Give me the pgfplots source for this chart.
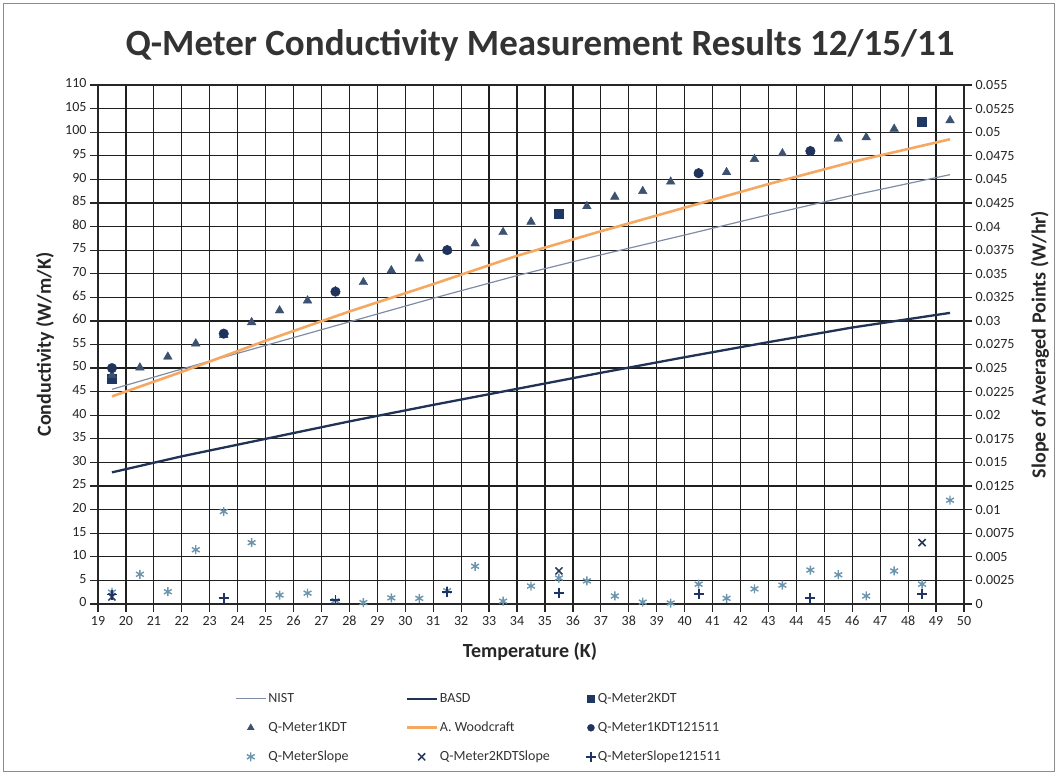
\documentclass[border=0pt]{standalone}
\usepackage{fontspec}
\setmainfont{Carlito}
\usepackage{pgfplots}
\usepackage{pgfplotstable}
\pgfplotsset{compat=1.18}
\definecolor{nistc}{rgb}{0.50,0.55,0.65}
\definecolor{basdc}{rgb}{0.13,0.20,0.33}
\definecolor{woodc}{rgb}{0.96,0.66,0.38}
\definecolor{sqc}{rgb}{0.12,0.22,0.38}
\definecolor{tric}{rgb}{0.24,0.32,0.44}
\definecolor{circc}{rgb}{0.12,0.20,0.36}
\definecolor{slopec}{rgb}{0.42,0.58,0.68}
\definecolor{xslc}{rgb}{0.15,0.22,0.36}
\definecolor{plc}{rgb}{0.12,0.20,0.40}

\pgfplotstableread{
T k
19.5 45.5
22 49.8
25 54.8
28 59.8
31 64.8
34 69.6
37 74.0
40 78.2
43 82.5
46 86.6
49.5 91.0
}\nist
\pgfplotstableread{
T k
19.5 27.9
22 31.3
25 35.0
28 38.7
31 42.2
34 45.6
37 49.0
40 52.3
43 55.5
46 58.6
49.5 61.7
}\basd
\pgfplotstableread{
T k
19.5 44.0
22 49.2
25 55.8
28 62.0
31 67.8
34 73.8
37 79.0
40 84.0
43 89.0
46 93.7
49.5 98.5
}\wood
\pgfplotstableread{
T k
19.5 47.8
35.5 82.8
48.5 102.2
}\qtwo
\pgfplotstableread{
T k
19.5 48.5
20.5 50.1
21.5 52.4
22.5 55.2
23.5 57.0
24.5 59.7
25.5 62.2
26.5 64.3
27.5 66.3
28.5 68.2
29.5 70.7
30.5 73.2
31.5 75.0
32.5 76.4
33.5 78.8
34.5 81.0
36.5 84.3
37.5 86.3
38.5 87.5
39.5 89.5
40.5 91.3
41.5 91.5
42.5 94.3
43.5 95.5
44.5 96.0
45.5 98.6
46.5 98.9
47.5 100.7
49.5 102.5
}\qone
\pgfplotstableread{
T k
19.5 50.0
23.5 57.3
27.5 66.2
31.5 75.0
40.5 91.3
44.5 96.0
}\qonetwo
\pgfplotstableread{
T s
19.5 0.00125
20.5 0.00315
21.5 0.0013
22.5 0.00575
23.5 0.0098
24.5 0.0065
25.5 0.00095
26.5 0.00115
27.5 0.00035
28.5 0.00015
29.5 0.00065
30.5 0.0006
31.5 0.0014
32.5 0.004
33.5 0.0003
34.5 0.0019
35.5 0.00275
36.5 0.00245
37.5 0.00085
38.5 0.0002
39.5 0.0001
40.5 0.0021
41.5 0.0006
42.5 0.0016
43.5 0.002
44.5 0.0036
45.5 0.0031
46.5 0.00085
47.5 0.0035
48.5 0.0021
49.5 0.011
}\slope
\pgfplotstableread{
T s
19.5 0.00075
35.5 0.0035
48.5 0.0065
}\slopetwo
\pgfplotstableread{
T s
19.5 0.001
23.5 0.00065
27.5 0.0004
31.5 0.00125
35.5 0.0012
40.5 0.00105
44.5 0.00065
48.5 0.00105
}\slopeone

\begin{document}
\begin{tikzpicture}
\path[use as bounding box] (-98pt,-172pt) rectangle (960pt,604pt);
\draw[black!45, line width=1pt] (-94pt,-168pt) rectangle (956pt,600pt);
\begin{axis}[
  at={(0pt,0pt)}, anchor=south west,
  scale only axis, width=866pt, height=519pt,
  xmin=19, xmax=50, ymin=0, ymax=110,
  xtick={19,...,50}, ytick={0,5,...,110},
  grid=major, major grid style={black!88, line width=1.2pt},
  axis line style={black!85, line width=1.2pt},
  tick align=outside, major tick length=8pt,
  xtick pos=left, ytick pos=left,
  tick style={black!85, line width=1.2pt},
  tick label style={font=\fontsize{14}{14}\selectfont, text=black!85},
  typeset ticklabels with strut,
  /pgf/number format/assume math mode=true,
]
\addplot[nistc, line width=1.2pt] table[x=T,y=k] {\nist};
\addplot[basdc, line width=2.3pt] table[x=T,y=k] {\basd};
\addplot[only marks, mark=square*, mark size=4.5pt, sqc] table[x=T,y=k] {\qtwo};
\addplot[only marks, mark=triangle*, mark size=5pt, tric] table[x=T,y=k] {\qone};
\addplot[woodc, line width=2.6pt] table[x=T,y=k] {\wood};
\addplot[only marks, mark=*, mark size=4.8pt, circc] table[x=T,y=k] {\qonetwo};
\end{axis}
\begin{axis}[
  at={(0pt,0pt)}, anchor=south west,
  scale only axis, width=866pt, height=519pt,
  xmin=19, xmax=50, ymin=0, ymax=0.055,
  axis x line=none, axis y line*=right,
  scaled y ticks=false,
  ytick={0,0.0025,0.005,0.0075,0.01,0.0125,0.015,0.0175,0.02,0.0225,0.025,0.0275,0.03,0.0325,0.035,0.0375,0.04,0.0425,0.045,0.0475,0.05,0.0525,0.055},
  yticklabels={0,0.0025,0.005,0.0075,0.01,0.0125,0.015,0.0175,0.02,0.0225,0.025,0.0275,0.03,0.0325,0.035,0.0375,0.04,0.0425,0.045,0.0475,0.05,0.0525,0.055},
  axis line style={black!85, line width=1.2pt},
  tick align=outside, major tick length=8pt,
  tick style={black!85, line width=1.2pt},
  tick label style={font=\fontsize{14}{14}\selectfont, text=black!85},
  legend image code/.code={\draw[mark repeat=2,mark phase=2,#1] plot coordinates {(0pt,0pt) (15pt,0pt) (30pt,0pt)};},
  legend style={at={(axis description cs:0.1547,-0.162)}, anchor=north west,
    draw=none, fill=none, legend columns=3,
    font=\fontsize{14}{14}\selectfont, text=black!80,
    column sep=0pt, row sep=12pt,
    nodes={inner sep=2pt, text height=10pt, text depth=3pt}},
  legend cell align=left,
]
\addlegendimage{nistc, line width=1.2pt}
\addlegendentry{\makebox[135pt][l]{NIST}}
\addlegendimage{basdc, line width=2.3pt}
\addlegendentry{\makebox[144pt][l]{BASD}}
\addlegendimage{only marks, mark=square*, mark size=3.5pt, sqc}
\addlegendentry{\makebox[150pt][l]{Q-Meter2KDT}}
\addlegendimage{only marks, mark=triangle*, mark size=4pt, tric}
\addlegendentry{Q-Meter1KDT}
\addlegendimage{woodc, line width=2.6pt}
\addlegendentry{A. Woodcraft}
\addlegendimage{only marks, mark=*, mark size=3.5pt, circc}
\addlegendentry{Q-Meter1KDT121511}
\addplot[only marks, mark=asterisk, mark size=4.5pt, line width=1.4pt, slopec] table[x=T,y=s] {\slope};
\addlegendentry{Q-MeterSlope}
\addplot[only marks, mark=x, mark size=5pt, line width=1.5pt, xslc] table[x=T,y=s] {\slopetwo};
\addlegendentry{Q-Meter2KDTSlope}
\addplot[only marks, mark=+, mark size=5pt, line width=1.8pt, plc] table[x=T,y=s] {\slopeone};
\addlegendentry{Q-MeterSlope121511}
\end{axis}
\node[font=\bfseries\fontsize{37}{37}\selectfont, text=black!80] at (442pt,559pt) {Q-Meter Conductivity Measurement Results 12/15/11};
\node[font=\bfseries\fontsize{20}{20}\selectfont, text=black!85, rotate=90] at (-53pt,259.5pt) {Conductivity (W/m/K)};
\node[font=\bfseries\fontsize{20}{20}\selectfont, text=black!85, rotate=90] at (942pt,259.5pt) {Slope of Averaged Points (W/hr)};
\node[font=\bfseries\fontsize{20}{20}\selectfont, text=black!85] at (432pt,-48pt) {Temperature (K)};
\end{tikzpicture}
\end{document}
